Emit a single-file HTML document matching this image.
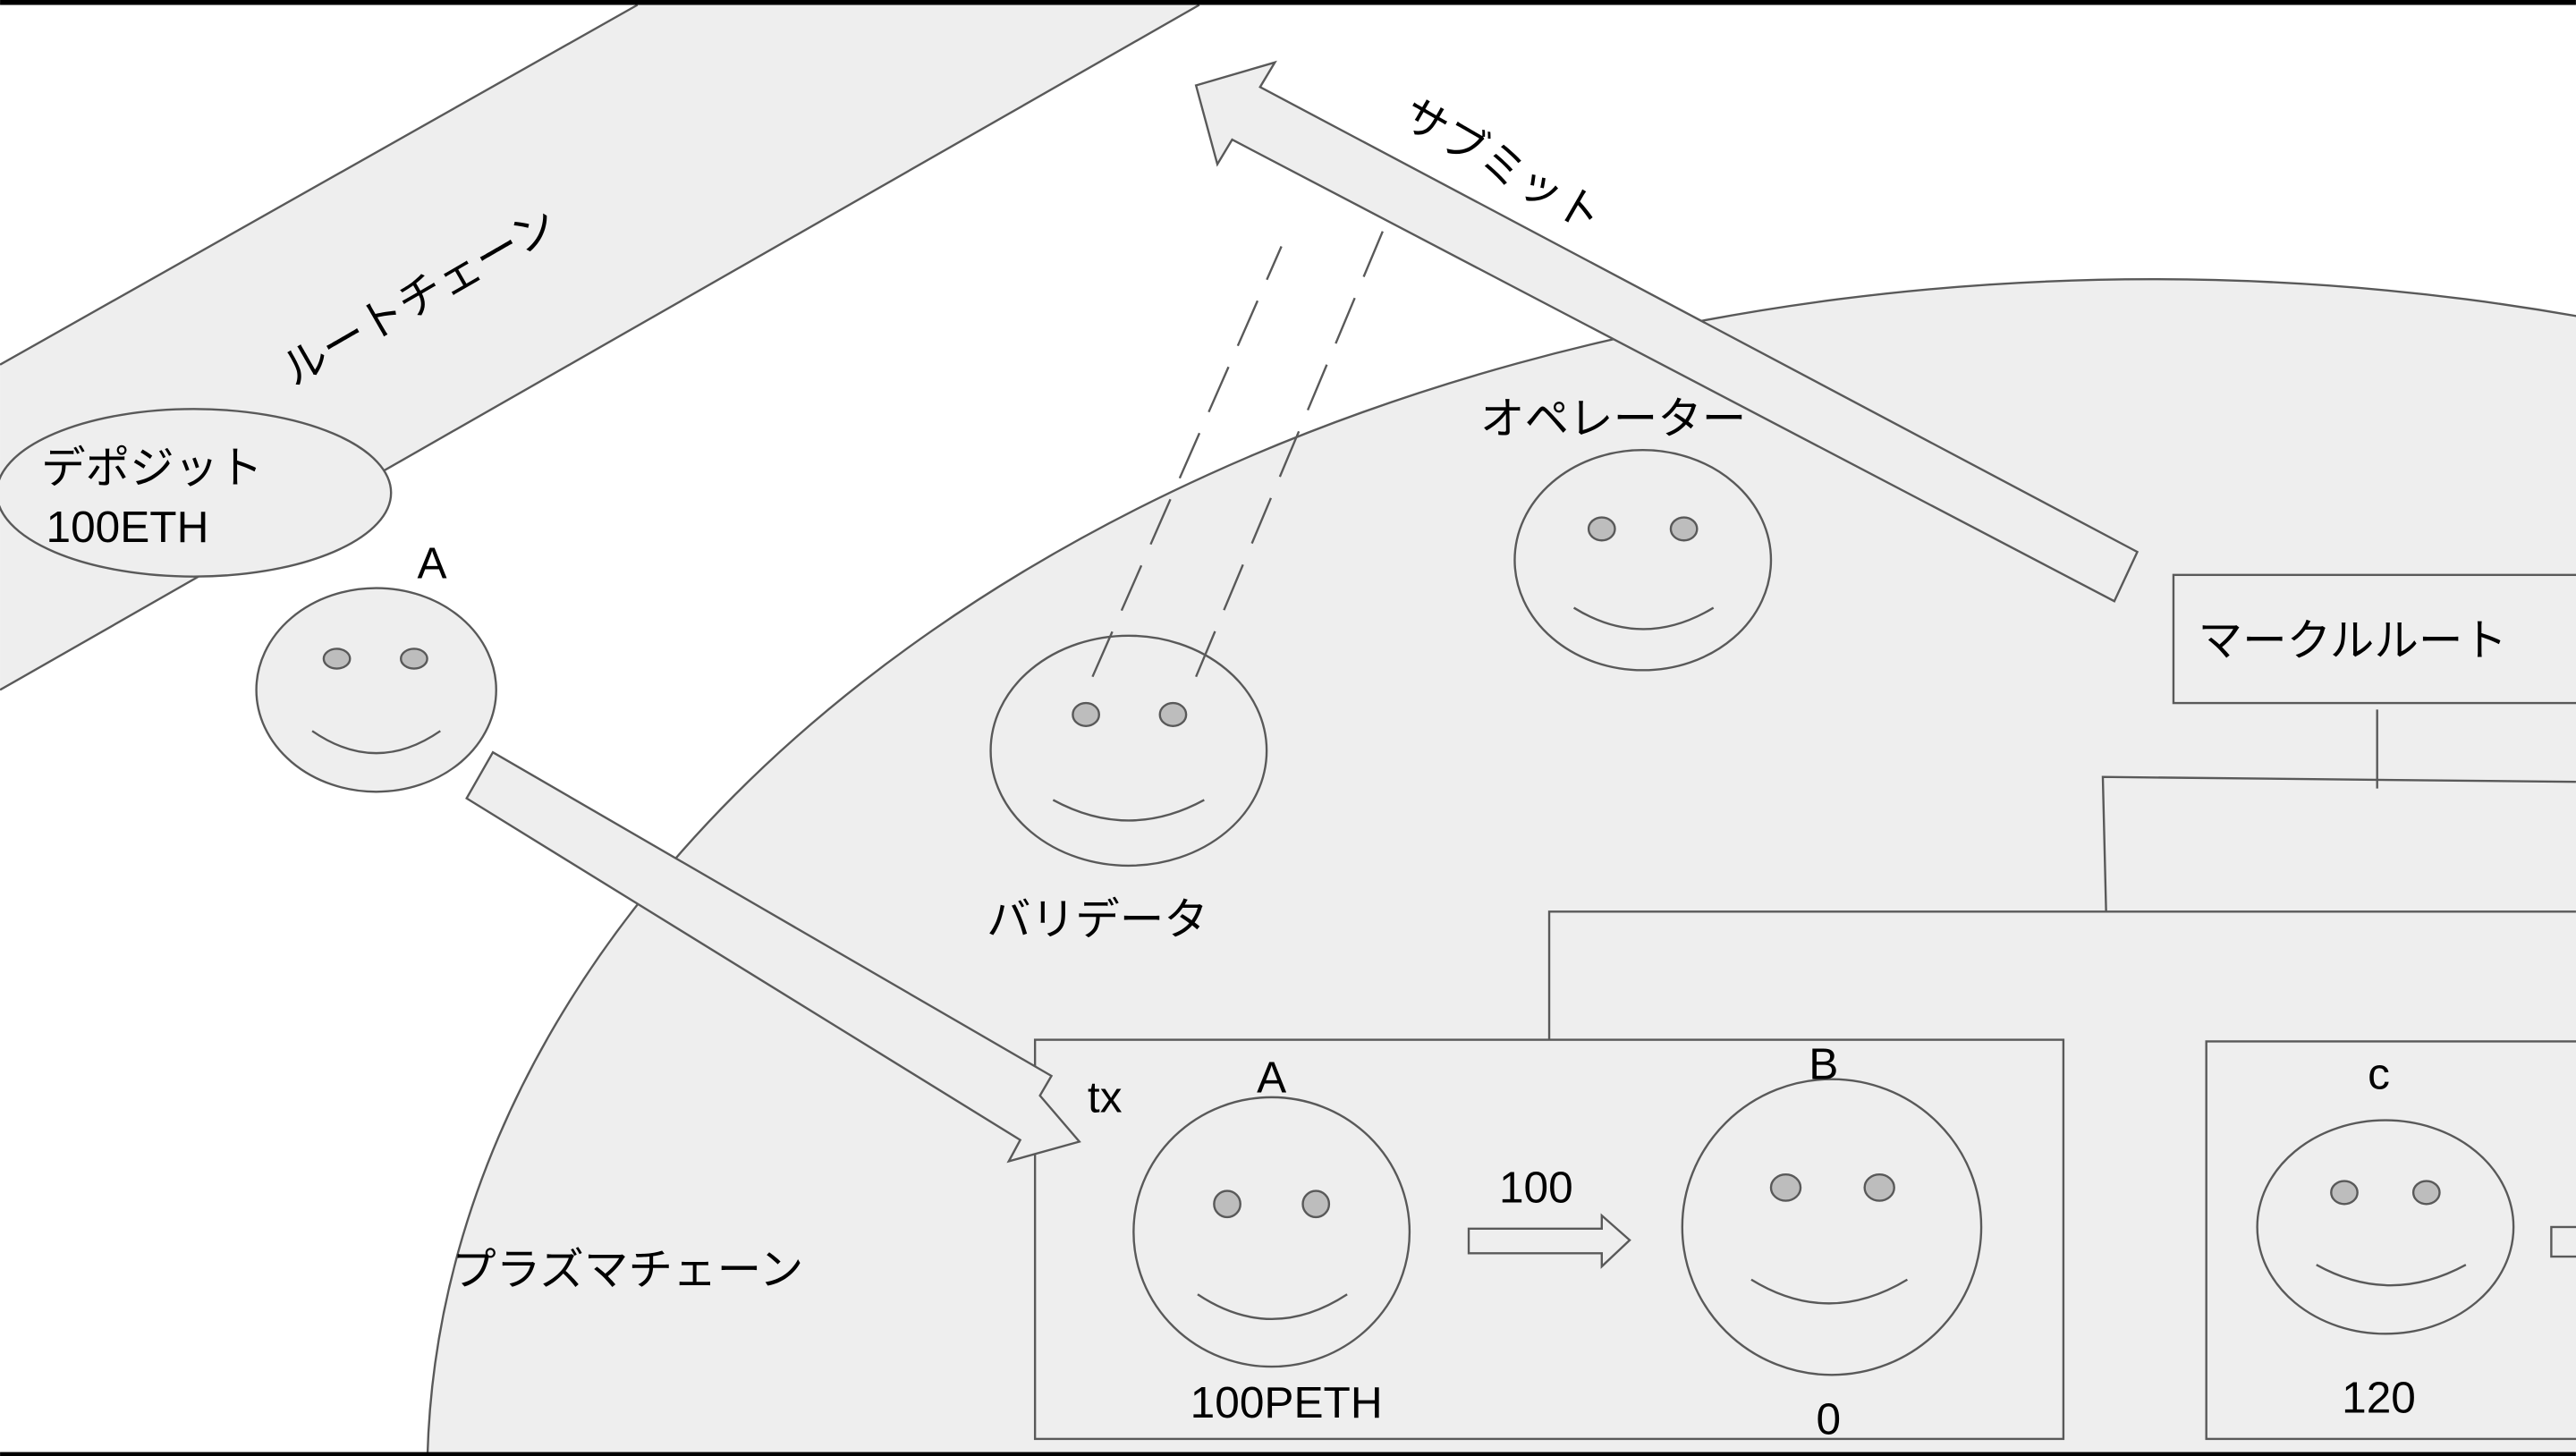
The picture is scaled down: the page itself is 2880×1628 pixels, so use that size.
<!DOCTYPE html>
<html><head><meta charset="utf-8"><style>html,body{margin:0;padding:0;background:#fff;width:2880px;height:1628px;overflow:hidden}svg{display:block}text{font-family:"Liberation Sans","Noto Sans CJK JP",sans-serif;fill:#000}</style></head>
<body>
<svg width="2880" height="1628" viewBox="0 0 1568 886.4" xmlns="http://www.w3.org/2000/svg">
<rect x="0" y="0" width="1568" height="886.4" fill="#fff"/>
<g stroke="#595959" stroke-width="1.3" fill="#eeeeee">
<ellipse cx="1310" cy="900" rx="1050" ry="730"/>
<polygon points="388,3 730,3 0,420 0,222" stroke="none"/>
<line x1="388" y1="3" x2="0" y2="222"/>
<line x1="730" y1="3" x2="0" y2="420"/>
<ellipse cx="118" cy="300" rx="120" ry="51"/>
<polygon points="728,52 776,38 767,53 1301,336 1287,366 750,85 741,100"/>
<rect x="1323" y="350" width="260" height="78"/>
<rect x="630" y="633" width="626" height="243"/>
<rect x="1343" y="634" width="260" height="242"/>
<polygon points="894,748 975,748 975,740 992,755 975,771 975,763 894,763"/>
<rect x="1553" y="747" width="30" height="18"/>
<polygon points="300,458 640,655 633,667 657,695 614,707 621,694 284,486"/>
</g>
<g stroke="#595959" stroke-width="1.3" fill="none">
<line x1="1447" y1="432" x2="1447" y2="480"/>
<polyline points="1282,555 1280,473 1568,476"/>
<polyline points="943,633 943,555 1568,555"/>
</g>
<g stroke="#595959" stroke-width="1.3">
<g fill="#eeeeee">
<ellipse cx="229" cy="420" rx="73" ry="62"/>
<ellipse cx="687" cy="457" rx="84" ry="70"/>
<ellipse cx="1000" cy="341" rx="78" ry="67"/>
<ellipse cx="774" cy="750" rx="84" ry="82"/>
<ellipse cx="1115" cy="747" rx="91" ry="90"/>
<ellipse cx="1452" cy="747" rx="78" ry="65"/>
</g>
<g fill="#bdbdbd">
<ellipse cx="205" cy="401" rx="8" ry="6"/><ellipse cx="252" cy="401" rx="8" ry="6"/>
<ellipse cx="661" cy="435" rx="8" ry="7"/><ellipse cx="714" cy="435" rx="8" ry="7"/>
<ellipse cx="975" cy="322" rx="8" ry="7"/><ellipse cx="1025" cy="322" rx="8" ry="7"/>
<ellipse cx="747" cy="733" rx="8" ry="8"/><ellipse cx="801" cy="733" rx="8" ry="8"/>
<ellipse cx="1087" cy="723" rx="9" ry="8"/><ellipse cx="1144" cy="723" rx="9" ry="8"/>
<ellipse cx="1427" cy="726" rx="8" ry="7"/><ellipse cx="1477" cy="726" rx="8" ry="7"/>
</g>
<g fill="none">
<path d="M190,445 Q229,472 268,445"/>
<path d="M641,487 Q687,512 733,487"/>
<path d="M958,370 Q1000,396 1043,370"/>
<path d="M729,788 Q774,818 820,788"/>
<path d="M1066,779 Q1113,808 1161,779"/>
<path d="M1410,770 Q1455,795 1501,770"/>
<line x1="665" y1="412" x2="780" y2="150" stroke-dasharray="30,14"/>
<line x1="728" y1="412" x2="842" y2="140" stroke-dasharray="30,14"/>
</g>
</g>
<g font-size="27">
<text x="255" y="190" text-anchor="middle" transform="rotate(-30 255 180)">ルートチェーン</text>
<text x="915" y="110" text-anchor="middle" transform="rotate(30 915 100)">サブミット</text>
<text x="25" y="294">デポジット</text>
<text x="28" y="330">100ETH</text>
<text x="263" y="352" text-anchor="middle">A</text>
<text x="668" y="569" text-anchor="middle">バリデータ</text>
<text x="982" y="264" text-anchor="middle">オペレーター</text>
<text x="1338" y="399">マークルルート</text>
<text x="662" y="677">tx</text>
<text x="774" y="665" text-anchor="middle">A</text>
<text x="783" y="863" text-anchor="middle">100PETH</text>
<text x="935" y="732" text-anchor="middle">100</text>
<text x="1110" y="657" text-anchor="middle">B</text>
<text x="1113" y="873" text-anchor="middle">0</text>
<text x="1448" y="663" text-anchor="middle">c</text>
<text x="1448" y="860" text-anchor="middle">120</text>
<text x="275" y="782">プラズマチェーン</text>
</g>
<rect x="0" y="0" width="1568" height="3" fill="#000"/>
<rect x="0" y="884" width="1568" height="3" fill="#000"/>
</svg>
</body></html>
